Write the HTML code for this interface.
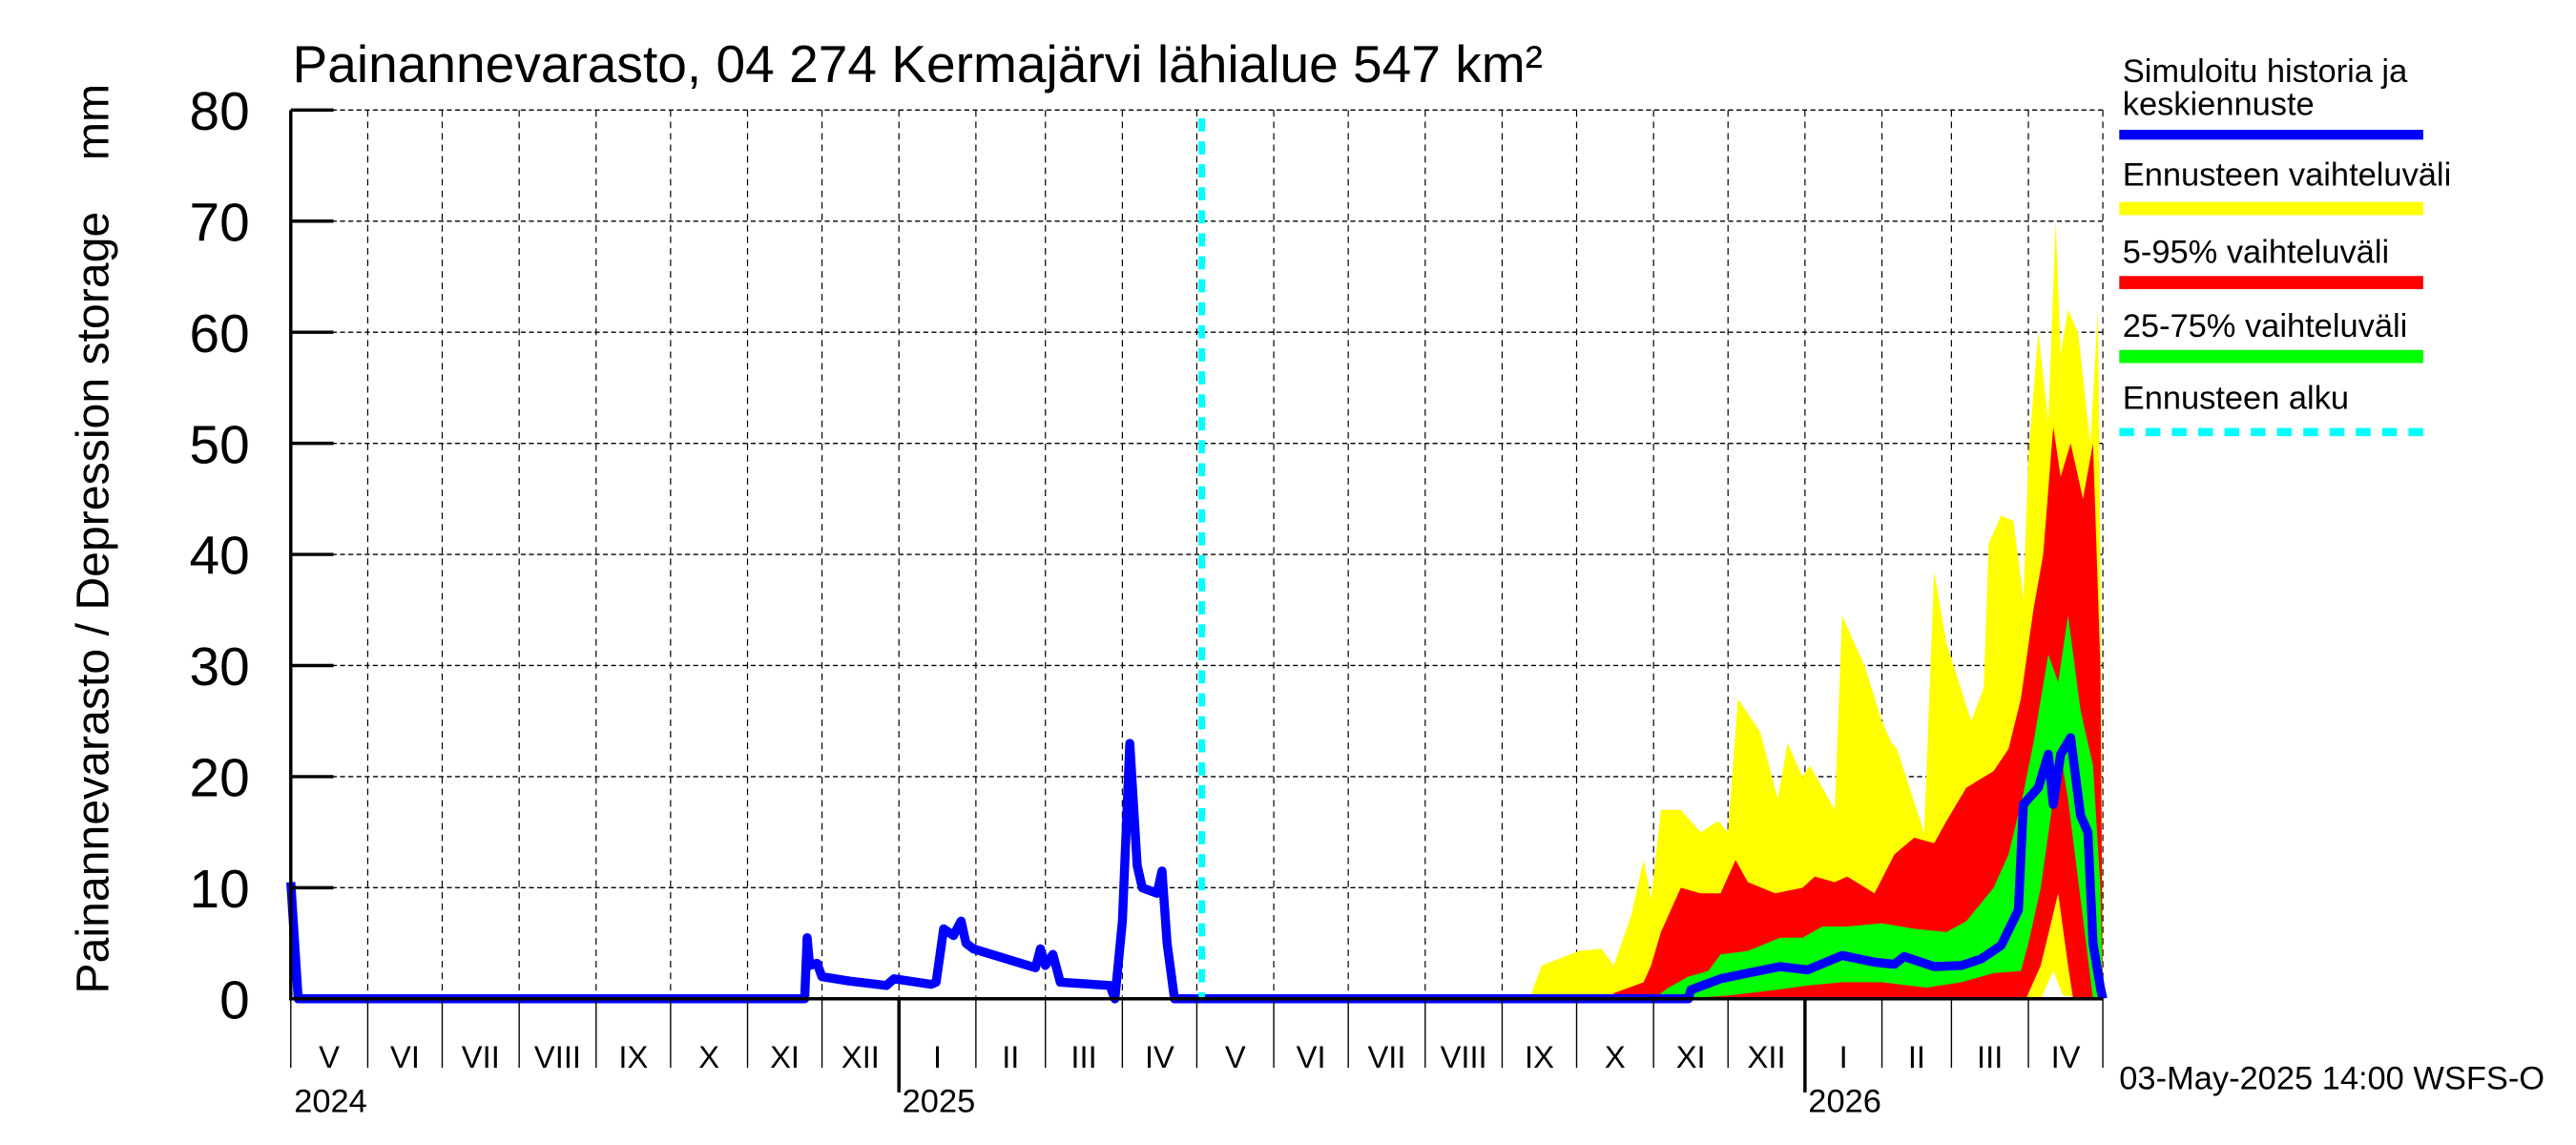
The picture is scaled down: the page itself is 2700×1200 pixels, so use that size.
<!DOCTYPE html>
<html><head><meta charset="utf-8">
<style>html,body{margin:0;padding:0;background:#fff}svg{display:block}text{font-family:"Liberation Sans",sans-serif}</style>
</head><body>
<svg id="chart" width="2700" height="1200" viewBox="0 0 1568 697" preserveAspectRatio="none" xmlns="http://www.w3.org/2000/svg">
<g id="grid"></g>
<g id="bands"></g>
<g id="lines"></g>
<g id="axes"></g>
<text x="178" y="50" font-size="32">Painannevarasto, 04 274 Kermajärvi lähialue 547 km²</text>
<text transform="translate(66,328) rotate(-90)" text-anchor="middle" font-size="28" xml:space="preserve">Painannevarasto / Depression storage    mm</text>
<text x="1290" y="663" font-size="20">03-May-2025 14:00 WSFS-O</text>
<g font-size="20">
<text x="1292" y="50">Simuloitu historia ja</text>
<text x="1292" y="70">keskiennuste</text>
<line x1="1290" x2="1475" y1="82" y2="82" stroke="#0000ff" stroke-width="6"/>
<text x="1292" y="113">Ennusteen vaihteluväli</text>
<line x1="1290" x2="1475" y1="127" y2="127" stroke="#ffff00" stroke-width="8"/>
<text x="1292" y="160">5-95% vaihteluväli</text>
<line x1="1290" x2="1475" y1="172" y2="172" stroke="#ff0000" stroke-width="8"/>
<text x="1292" y="205">25-75% vaihteluväli</text>
<line x1="1290" x2="1475" y1="217" y2="217" stroke="#00ff00" stroke-width="8"/>
<text x="1292" y="249">Ennusteen alku</text>
<line x1="1290" x2="1475" y1="263" y2="263" stroke="#00ffff" stroke-width="5" stroke-dasharray="9,7"/>
</g>
</svg>
<script>
// days since 2024-05-01
const yTicks = [0,10,20,30,40,50,60,70,80];
const monthLabels = ["V","VI","VII","VIII","IX","X","XI","XII","I","II","III","IV","V","VI","VII","VIII","IX","X","XI","XII","I","II","III","IV"];
const monthStarts = [0,31,61,92,123,153,184,214,245,276,304,335,365,396,426,457,488,518,549,579,610,641,669,700,730];
const yearLabels = ["2024","2025","2026"];
const yearDays = [0,245,610];
const forecastStartDay = 367;

const histDays = [0,3,207,208,209,212,214,225,240,243,258,260,263,267,270,272,275,300,302,304,307,310,330,332,335,338,341,343,349,351,353,356,367];
const histVals = [10.5,0,0,5.5,3,3.2,2,1.6,1.2,1.8,1.3,1.5,6.3,5.7,7,5,4.5,2.8,4.5,3,4,1.5,1.2,0,7,23,12,10,9.5,11.5,5,0,0];

const maxDays = [367,499,504,519,528,533,540,545,548,552,560,568,575,579,583,592,599,603,609,612,622,625,634,641,645,647,658,662,667,677,682,684,689,694,698,700,704,708,711,713,716,720,725,728,729,730];
const maxVals = [0,0,3,4.3,4.5,3,7.5,12.5,9,17,17,15,16,15,27,24,18,23,20,21,17,34.5,30,25,23,22.5,15,38.5,32,25,28,41,43.5,43,36,49,60,52,70,58,62,60,50,62,40,0];
const minDays = [367,705,706,710,714,730];
const minVals = [0,0,0.5,2.5,0.3,0];

const p95Days = [367,531,533,545,548,552,560,568,576,582,587,598,609,614,622,627,638,646,654,662,667,675,686,692,697,702,706,710,713,717,722,726,729,730];
const p95Vals = [0,0,0.5,1.5,3,6,10,9.5,9.5,12.5,10.5,9.5,10,11,10.5,11,9.5,13,14.5,14,16,19,20.5,22.5,27,35,40,51.5,47,50,45,50,30,0];
const p5Days = [367,699,700,705,712,716,718,730];
const p5Vals = [0,0,0.5,3,9.5,3,0,0];

const p75Days = [367,549,555,563,571,576,587,600,609,617,627,641,654,667,675,686,692,698,702,708,712,716,721,726,729,730];
const p75Vals = [0,0,1,2,2.5,4,4.3,5.5,5.5,6.5,6.5,6.8,6.3,6,7,10,13,18.5,23,31,28.5,34.5,26,21,10,0];
const p25Days = [367,560,579,598,611,625,641,659,673,686,697,700,705,710,713,716,721,726,730];
const p25Vals = [0,0,0.3,0.8,1.2,1.5,1.5,1,1.5,2.3,2.5,5,10,18,22,18,9,0,0];

const medDays = [367,563,564,576,587,600,611,625,638,646,650,662,673,681,689,696,698,704,708,710,713,717,721,724,726,729,730];
const medVals = [0,0,0.8,1.8,2.3,2.9,2.6,3.9,3.3,3.1,3.8,2.9,3,3.6,4.8,8,17.5,19,22,17.5,22,23.5,16.5,15,5,1,0];

const X0=177, X1=1280, Y0=608, Y80=67, DMAX=730;
function xs(d){return X0+(X1-X0)*d/DMAX;}
function ys(v){return Y0-(Y0-Y80)*v/80;}
const NS="http://www.w3.org/2000/svg";
function mk(tag,parent,attrs){const e=document.createElementNS(NS,tag);for(const k in attrs)e.setAttribute(k,attrs[k]);parent.appendChild(e);return e;}
const grid=document.getElementById('grid'),bands=document.getElementById('bands'),lines=document.getElementById('lines'),axes=document.getElementById('axes');

yTicks.forEach(v=>{ if(v===0)return;
  const l=mk('line',grid,{x1:X0,x2:X1,y1:ys(v),y2:ys(v),stroke:'#000','stroke-width':0.8,'stroke-dasharray':'3,2'});
  
  
});
monthStarts.forEach((d,i)=>{ if(i===0)return;
  const l=mk('line',grid,{x1:xs(d),x2:xs(d),y1:Y80,y2:Y0,stroke:'#000','stroke-width':0.7,'stroke-dasharray':'4,3'});
  
  
});

function band(topD,topV,botD,botV,color,name){
  const pts=[];
  topD.forEach((d,i)=>pts.push(xs(d).toFixed(1)+','+ys(topV[i]).toFixed(1)));
  for(let i=botD.length-1;i>=0;i--)pts.push(xs(botD[i]).toFixed(1)+','+ys(botV[i]).toFixed(1));
  const p=mk('polygon',bands,{points:pts.join(' '),fill:color});
  
  
}
band(maxDays,maxVals,minDays,minVals,'#ffff00','band-min-max');
band(p95Days,p95Vals,p5Days,p5Vals,'#ff0000','band-5-95');
band(p75Days,p75Vals,p25Days,p25Vals,'#00ff00','band-25-75');

function line(D,V,name){
  const pts=D.map((d,i)=>xs(d).toFixed(1)+','+ys(V[i]).toFixed(1)).join(' ');
  const p=mk('polyline',lines,{points:pts,fill:'none',stroke:'#0000ff','stroke-width':5.5,'stroke-linejoin':'round'});
  
  
}
line(histDays,histVals,'history-line');
line(medDays,medVals,'median-forecast-line');

const fs=mk('line',lines,{x1:xs(forecastStartDay),x2:xs(forecastStartDay),y1:72,y2:Y0,stroke:'#00ffff','stroke-width':4,'stroke-dasharray':'8,6'});



let a=mk('line',axes,{x1:X0,x2:X0,y1:Y80,y2:Y0+1,stroke:'#000','stroke-width':2});


a=mk('line',axes,{x1:X0,x2:X1,y1:Y0,y2:Y0,stroke:'#000','stroke-width':2});


yTicks.forEach(v=>{
  const t=mk('line',axes,{x1:X0,x2:203,y1:ys(v),y2:ys(v),stroke:'#000','stroke-width':2});
  
  
  const tx=mk('text',axes,{x:152,y:ys(v)+12,'text-anchor':'end','font-size':33});
  tx.textContent=v;
  
  
});
monthStarts.forEach((d,i)=>{
  const t=mk('line',axes,{x1:xs(d),x2:xs(d),y1:Y0,y2:650,stroke:'#000','stroke-width':0.8});
  
  
  if(i<monthLabels.length){
    const tx=mk('text',axes,{x:(xs(d)+xs(monthStarts[i+1]))/2,y:650,'text-anchor':'middle','font-size':19});
    tx.textContent=monthLabels[i];
    
    
  }
});
yearLabels.forEach((y,i)=>{
  if(i>0){
    const t=mk('line',axes,{x1:xs(yearDays[i]),x2:xs(yearDays[i]),y1:Y0,y2:665,stroke:'#000','stroke-width':2});
    
    
  }
  const tx=mk('text',axes,{x:xs(yearDays[i])+2,y:677,'font-size':20});
  tx.textContent=y;
  
  
});
</script>
</body></html>
